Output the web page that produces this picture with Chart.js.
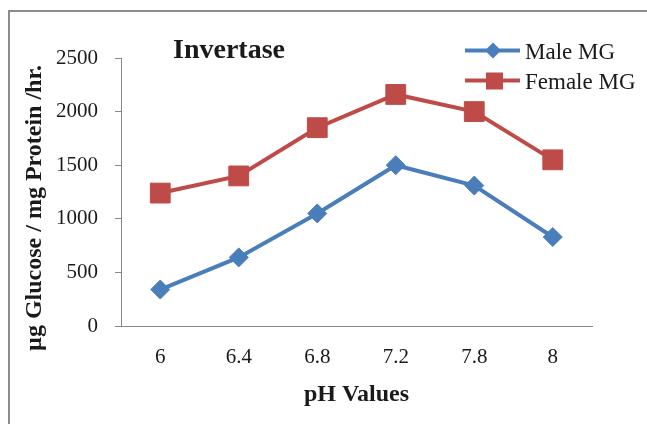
<!DOCTYPE html>
<html>
<head>
<meta charset="utf-8">
<script src="https://cdn.jsdelivr.net/npm/chart.js@4.4.1/dist/chart.umd.min.js"></script>
<style>
    html, body { margin: 0; padding: 0; background: #ffffff; overflow: hidden; }
    #chart_container { width: 647px; height: 424px; }
</style>
</head>
<body>
<div id="chart_container">
    <canvas id="invertase_chart" width="647" height="424"></canvas>
</div>
<script>
// Data

const phValues = ['6', '6.4', '6.8', '7.2', '7.8', '8'];
const maleMG = [340, 640, 1050, 1500, 1310, 830];
const femaleMG = [1240, 1400, 1850, 2160, 2000, 1550];
const yTicks = [0, 500, 1000, 1500, 2000, 2500];

const seriesNames = ['Male MG', 'Female MG'];
const chartTitle = 'Invertase';
const xTitle = 'pH Values';
const yTitle = '\u00b5g Glucose / mg Protein /hr.';

const blue = '#4a7ebb';
const red = '#be4b48';
const axisGrey = '#868686';
const textColor = '#1a1a1a';
const serif = '"Liberation Serif", "Times New Roman", serif';

// Frame round the figure (only left and top edges are inside the picture)

const framePlugin = {
    id: 'frame',
    beforeDraw: function(chart) {
        const ctx = chart.ctx;
        ctx.save();
        ctx.strokeStyle = '#8c8c8c';
        ctx.lineWidth = 2;
        ctx.beginPath();
        ctx.moveTo(9, chart.height);
        ctx.lineTo(9, 11);
        ctx.lineTo(chart.width, 11);
        ctx.stroke();
        ctx.restore();
    }
};

// Title, axis titles and legend drawn on top of the chart

const extraTextPlugin = {
    id: 'extraText',
    afterDraw: function(chart) {
        const ctx = chart.ctx;
        ctx.save();
        ctx.fillStyle = textColor;
        ctx.textBaseline = 'alphabetic';

        // title
        ctx.font = 'bold 28px ' + serif;
        ctx.textAlign = 'left';
        ctx.fillText(chartTitle, 173, 58);

        // x axis title
        ctx.font = 'bold 24px ' + serif;
        ctx.textAlign = 'center';
        ctx.fillText(xTitle, (chart.chartArea.left + chart.chartArea.right) / 2, 401);

        // y axis title
        ctx.save();
        ctx.translate(41, 208);
        ctx.rotate(-Math.PI / 2);
        ctx.fillText(yTitle, 0, 0);
        ctx.restore();

        // legend: line with marker, then the name
        const legendRows = [50.5, 80.5];
        chart.data.datasets.forEach((ds, i) => {
            const y = legendRows[i];
            ctx.strokeStyle = ds.borderColor;
            ctx.lineWidth = 4;
            ctx.beginPath();
            ctx.moveTo(465, y);
            ctx.lineTo(520, y);
            ctx.stroke();
            ctx.fillStyle = ds.borderColor;
            if (ds.pointStyle === 'rect') {
                ctx.fillRect(486, y - 8, 17, 17);
            } else {
                ctx.beginPath();
                ctx.moveTo(493, y - 8);
                ctx.lineTo(501, y);
                ctx.lineTo(493, y + 8);
                ctx.lineTo(485, y);
                ctx.closePath();
                ctx.fill();
            }
            ctx.fillStyle = textColor;
            ctx.font = '23px ' + serif;
            ctx.textAlign = 'left';
            ctx.fillText(ds.label, 525, y + 8);
        });
        ctx.restore();
    }
};

const createInvertaseChart = function(id) {
    const ctx = document.getElementById(id).getContext('2d');
    return new Chart(ctx, {
        type: 'line',
        data: {
            labels: phValues,
            datasets: [{
                label: seriesNames[0],
                data: maleMG,
                borderColor: blue,
                backgroundColor: blue,
                borderWidth: 4,
                pointStyle: 'rectRot',
                pointRadius: 9.5,
                pointBorderWidth: 1,
                tension: 0
            }, {
                label: seriesNames[1],
                data: femaleMG,
                borderColor: red,
                backgroundColor: red,
                borderWidth: 4,
                pointStyle: 'rect',
                pointRadius: 14,
                pointBorderWidth: 1,
                tension: 0
            }]
        },
        options: {
            responsive: false,
            animation: false,
            events: [],
            layout: { padding: { left: 0, top: 58, right: 55, bottom: 0 } },
            plugins: {
                legend: { display: false },
                title: { display: false },
                tooltip: { enabled: false }
            },
            scales: {
                x: {
                    offset: true,
                    grid: { display: false },
                    border: { display: true, color: axisGrey, width: 1 },
                    ticks: {
                        color: textColor,
                        padding: 11,
                        font: { family: serif, size: 21 },
                        maxRotation: 0
                    },
                    afterFit: function(scale) { scale.height = 98; }
                },
                y: {
                    min: 0,
                    max: yTicks[yTicks.length - 1],
                    afterBuildTicks: function(scale) {
                        scale.ticks = yTicks.map(v => ({ value: v }));
                    },
                    grid: {
                        drawOnChartArea: false,
                        drawTicks: true,
                        tickLength: 6,
                        color: axisGrey
                    },
                    border: { display: true, color: axisGrey, width: 1 },
                    ticks: {
                        color: textColor,
                        padding: 17,
                        font: { family: serif, size: 21 },
                        callback: function(value) { return String(value); }
                    },
                    afterFit: function(scale) { scale.width = 121; }
                }
            }
        },
        plugins: [framePlugin, extraTextPlugin]
    });
}

createInvertaseChart('invertase_chart');
</script>
</body>
</html>
